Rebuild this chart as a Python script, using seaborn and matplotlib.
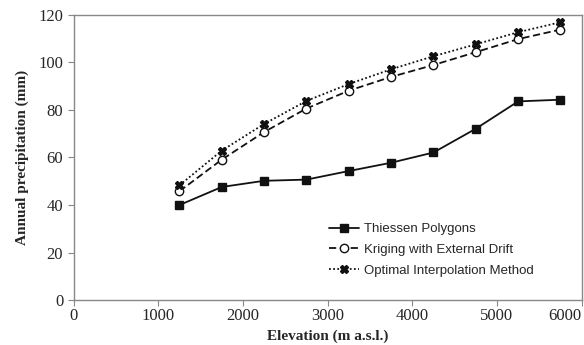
import pandas as pd
import matplotlib.pyplot as plt
import seaborn as sns

# データ
elevation = [1250, 1750, 2250, 2750, 3250, 3750, 4250, 4750, 5250, 5750]
thiessen = [40.0, 47.6, 50.2, 50.7, 54.3, 57.8, 62.1, 72.1, 83.6, 84.3]
kriging = [45.8, 59.1, 70.7, 80.6, 88.1, 93.9, 98.9, 104.3, 109.8, 113.8]
optimal = [48.3, 62.9, 74.1, 83.8, 90.9, 97.1, 102.6, 107.6, 112.7, 116.9]
series_names = ['Thiessen Polygons', 'Kriging with External Drift', 'Optimal Interpolation Method']

df = pd.DataFrame({'Elevation': elevation * 3,
                   'Precip': thiessen + kriging + optimal,
                   'Method': [n for n in series_names for _ in elevation]})

sns.set_style('white')
plt.rcParams['font.family'] = ['Liberation Serif', 'DejaVu Serif']

fig, ax = plt.subplots(figsize=(5.84, 3.45), dpi=100)
fig.subplots_adjust(left=0.126, right=0.996, top=0.957, bottom=0.13)

styles = {
    'Thiessen Polygons': dict(linestyle='-', marker='s', mfc='#111111', ms=5.5),
    'Kriging with External Drift': dict(linestyle=(0, (4, 2)), marker='o', mfc='white', ms=6),
    'Optimal Interpolation Method': dict(linestyle=(0, (1, 1.3)), marker='X', mfc='#111111', ms=6),
}
for name in series_names:
    st = styles[name]
    sns.lineplot(data=df[df['Method'] == name], x='Elevation', y='Precip', ax=ax,
                 color='#111111', linewidth=1.3, linestyle=st['linestyle'],
                 marker=st['marker'], markersize=st['ms'], markerfacecolor=st['mfc'],
                 markeredgecolor='#111111', markeredgewidth=1.0, label=name)

ax.set_xlim(0, 6000)
ax.set_ylim(0, 120)
ax.set_xticks(range(0, 6001, 1000))
ax.set_yticks(range(0, 121, 20))
ax.set_xlabel('Elevation (m a.s.l.)', fontsize=11, fontweight='bold', labelpad=3.5)
ax.set_ylabel('Annual precipitation (mm)', fontsize=11, fontweight='bold', labelpad=7)
ax.tick_params(axis='both', labelsize=12, length=4, width=0.8, color='#888888',
               direction='out', bottom=True, left=True)
ax.tick_params(axis='x', pad=2)
# 右端のラベルが切れないように
ax.get_xticklabels()[-1].set_horizontalalignment('right')
for sp in ax.spines.values():
    sp.set_color('#888888')
    sp.set_linewidth(1.0)

leg = ax.legend(loc='lower right', bbox_to_anchor=(0.93, 0.04), frameon=False,
                prop={'family': 'Liberation Sans', 'size': 9.5},
                handlelength=2.3, handletextpad=0.4, labelspacing=0.65)

plt.savefig('out.png', dpi=100)
